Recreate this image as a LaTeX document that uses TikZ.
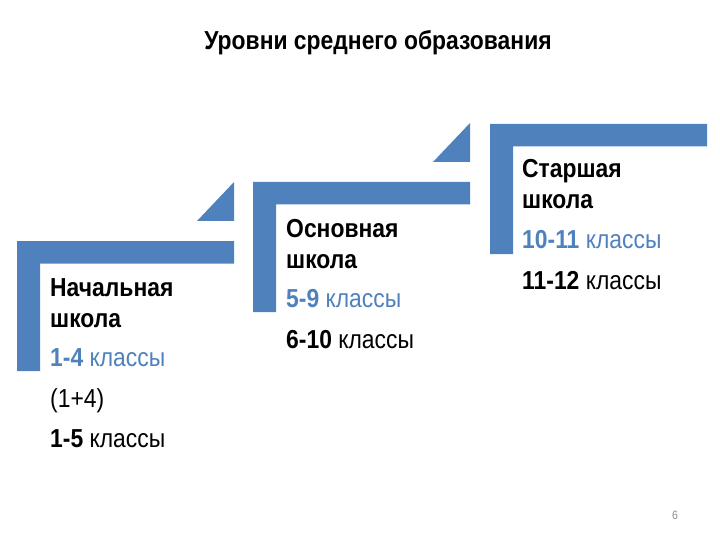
\documentclass[tikz,border=0pt]{standalone}
\usepackage{fontspec}
\setmainfont{Liberation Sans}[FakeStretch=0.88]
\definecolor{sblue}{HTML}{4F81BD}
\definecolor{pgnum}{HTML}{8C8C8C}
\tikzset{
  stepshape/.style={fill=sblue, draw=none},
  txt/.style={anchor=base west, inner sep=0pt, font=\fontsize{26}{30}\selectfont},
  bluetxt/.style={txt, text=sblue},
}
\begin{document}
\begin{tikzpicture}[x=1pt,y=-1pt]
\useasboundingbox (0,0) rectangle (720,540);
% title
\node[anchor=base, inner sep=0pt, font=\fontsize{26}{30}\selectfont\bfseries] (title) at (378,50) {Уровни среднего образования};
% L shapes
\foreach \X/\Y in {17/241, 253/182, 490/124}{
  \fill[stepshape] (\X,\Y) -- ++(217,0) -- ++(0,22.5) -- (\X+23,\Y+22.5) -- (\X+23,\Y+130) -- (\X,\Y+130) -- cycle;
}
% triangles
\foreach \X/\Y in {17/241, 253/182}{
  \fill[stepshape] (\X+180,\Y-20) -- (\X+217,\Y-59) -- (\X+217,\Y-20) -- cycle;
}
% step 1
\node[txt] (a1) at (50,296) {\bfseries Начальная};
\node[txt] (a2) at (50,327) {\bfseries школа};
\node[bluetxt] (a3) at (50,366) {\textbf{1-4} классы};
\node[txt] (a4) at (50,407) {(1+4)};
\node[txt] (a5) at (50,447) {\textbf{1-5} классы};
% step 2
\node[txt] (b1) at (286,237) {\bfseries Основная};
\node[txt] (b2) at (286,268) {\bfseries школа};
\node[bluetxt] (b3) at (286,307) {\textbf{5-9} классы};
\node[txt] (b4) at (286,348) {\textbf{6-10} классы};
% step 3
\node[txt] (c1) at (522,178) {\bfseries Старшая};
\node[txt] (c2) at (522,209) {\bfseries школа};
\node[bluetxt] (c3) at (522,248) {\textbf{10-11} классы};
\node[txt] (c4) at (522,289) {\textbf{11-12} классы};
% page number
\node[anchor=base, inner sep=0pt, text=pgnum, font=\fontsize{12}{14}\selectfont] (pg) at (675,519) {6};
\end{tikzpicture}
\end{document}
